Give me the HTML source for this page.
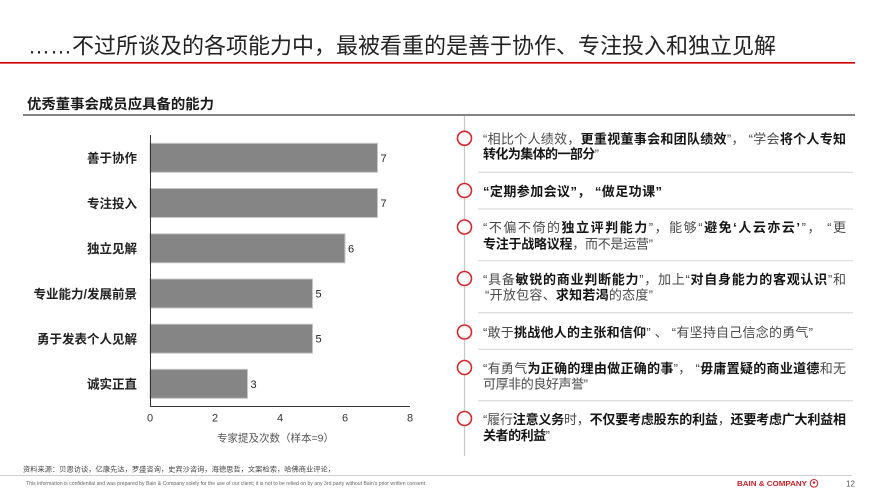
<!DOCTYPE html>
<html>
<head>
<meta charset="utf-8">
<style>
  html, body { margin:0; padding:0; background:#ffffff; }
  body { width:876px; height:492px; overflow:hidden; }
  svg text { font-family: "Liberation Sans", "Noto Sans CJK SC", sans-serif; }
  .b { font-weight:bold; fill:#151515; }
  .n { fill:#4a4a4a; }
</style>
</head>
<body>
<svg width="876" height="492" viewBox="0 0 876 492" xmlns="http://www.w3.org/2000/svg">
  <!-- Title -->
  <text x="28" y="53.5" font-size="22" fill="#222" textLength="748" lengthAdjust="spacingAndGlyphs">……不过所谈及的各项能力中，最被看重的是善于协作、专注投入和独立见解</text>
  <line x1="0" y1="62.8" x2="855" y2="62.8" stroke="#cc0000" stroke-width="1.6"/>

  <!-- Subtitle -->
  <text x="27" y="108.8" font-size="14" font-weight="bold" fill="#1a1a1a" textLength="187" lengthAdjust="spacingAndGlyphs">优秀董事会成员应具备的能力</text>
  <line x1="23" y1="115" x2="855" y2="115" stroke="#5a5a5a" stroke-width="1.5"/>

  <!-- Chart bars -->
  <g fill="#858585" stroke="#c6c6c6" stroke-width="1">
    <rect x="150" y="143.3" width="227.5" height="29"/>
    <rect x="150" y="188.5" width="227.5" height="29"/>
    <rect x="150" y="233.8" width="195" height="29"/>
    <rect x="150" y="279" width="162.5" height="29"/>
    <rect x="150" y="324.2" width="162.5" height="29"/>
    <rect x="150" y="369.3" width="97.5" height="29"/>
  </g>
  <!-- axes -->
  <line x1="150.5" y1="135" x2="150.5" y2="406.5" stroke="#333" stroke-width="1"/>
  <line x1="150" y1="406.5" x2="410" y2="406.5" stroke="#333" stroke-width="1"/>

  <!-- category labels -->
  <g font-size="12.5" font-weight="bold" fill="#222" text-anchor="end">
    <text x="137" y="162.6">善于协作</text>
    <text x="137" y="207.8">专注投入</text>
    <text x="137" y="253">独立见解</text>
    <text x="137" y="298.3">专业能力/发展前景</text>
    <text x="137" y="343.5">勇于发表个人见解</text>
    <text x="137" y="388.6">诚实正直</text>
  </g>

  <!-- value labels -->
  <g font-size="11" fill="#222">
    <text x="380.5" y="161.8">7</text>
    <text x="380.5" y="207">7</text>
    <text x="348" y="252.3">6</text>
    <text x="315.5" y="297.5">5</text>
    <text x="315.5" y="342.7">5</text>
    <text x="250.5" y="387.8">3</text>
  </g>

  <!-- tick labels -->
  <g font-size="11" fill="#333" text-anchor="middle">
    <text x="150" y="421.3">0</text>
    <text x="215" y="421.3">2</text>
    <text x="280" y="421.3">4</text>
    <text x="345" y="421.3">6</text>
    <text x="410" y="421.3">8</text>
  </g>
  <text x="217" y="441.3" font-size="10.5" fill="#555" textLength="117" lengthAdjust="spacingAndGlyphs">专家提及次数（样本=9）</text>

  <!-- Right panel: timeline -->
  <line x1="464.5" y1="116" x2="464.5" y2="456" stroke="#c8c8c8" stroke-width="1.2"/>
  <g stroke="#d3d3d3" stroke-width="1">
    <line x1="478" y1="172.3" x2="853" y2="172.3"/>
    <line x1="478" y1="209" x2="853" y2="209"/>
    <line x1="478" y1="260.7" x2="853" y2="260.7"/>
    <line x1="478" y1="312.7" x2="853" y2="312.7"/>
    <line x1="478" y1="349.3" x2="853" y2="349.3"/>
    <line x1="478" y1="400.7" x2="853" y2="400.7"/>
  </g>
  <g fill="#ffffff" stroke="#d9262b" stroke-width="1.6">
    <circle cx="464.5" cy="138.3" r="7"/>
    <circle cx="464.5" cy="190.5" r="7"/>
    <circle cx="464.5" cy="227" r="7"/>
    <circle cx="464.5" cy="278.5" r="7"/>
    <circle cx="464.5" cy="332" r="7"/>
    <circle cx="464.5" cy="367.5" r="7"/>
    <circle cx="464.5" cy="418.5" r="7"/>
  </g>

  <g font-size="13">
    <!-- Item 1 -->
    <text x="483" y="143.5" textLength="363" lengthAdjust="spacing"><tspan class="n">“相比个人绩效，</tspan><tspan class="b">更重视董事会和团队绩效</tspan><tspan class="n">”，  “学会</tspan><tspan class="b">将个人专知</tspan></text>
    <text x="483" y="158.5" textLength="116" lengthAdjust="spacing"><tspan class="b">转化为集体的一部分</tspan><tspan class="n">”</tspan></text>

    <!-- Item 2 -->
    <text x="483" y="196" textLength="179" lengthAdjust="spacing"><tspan class="b">“定期参加会议”，  “做足功课”</tspan></text>

    <!-- Item 3 -->
    <text x="483" y="232" textLength="363" lengthAdjust="spacing"><tspan class="n">“不偏不倚的</tspan><tspan class="b">独立评判能力</tspan><tspan class="n">”，能够“</tspan><tspan class="b">避免‘人云亦云’</tspan><tspan class="n">”，  “更</tspan></text>
    <text x="483" y="248.7" textLength="170" lengthAdjust="spacing"><tspan class="b">专注于战略议程</tspan><tspan class="n">，而不是运营”</tspan></text>

    <!-- Item 4 -->
    <text x="483" y="284" textLength="363" lengthAdjust="spacing"><tspan class="n">“具备</tspan><tspan class="b">敏锐的商业判断能力</tspan><tspan class="n">”，加上“</tspan><tspan class="b">对自身能力的客观认识</tspan><tspan class="n">”和</tspan></text>
    <text x="485" y="299.3" textLength="168" lengthAdjust="spacing"><tspan class="n">“开放包容、</tspan><tspan class="b">求知若渴</tspan><tspan class="n">的态度”</tspan></text>

    <!-- Item 5 -->
    <text x="483" y="337" textLength="330" lengthAdjust="spacing"><tspan class="n">“敢于</tspan><tspan class="b">挑战他人的主张和信仰</tspan><tspan class="n">” 、 “有坚持自己信念的勇气”</tspan></text>

    <!-- Item 6 -->
    <text x="483" y="373" textLength="363" lengthAdjust="spacing"><tspan class="n">“有勇气</tspan><tspan class="b">为正确的理由做正确的事</tspan><tspan class="n">”，  “</tspan><tspan class="b">毋庸置疑的商业道德</tspan><tspan class="n">和无</tspan></text>
    <text x="483" y="388.3" textLength="105" lengthAdjust="spacing"><tspan class="n">可厚非的良好声誉”</tspan></text>

    <!-- Item 7 -->
    <text x="483" y="424" textLength="363" lengthAdjust="spacing"><tspan class="n">“履行</tspan><tspan class="b">注意义务</tspan><tspan class="n">时，</tspan><tspan class="b">不仅要考虑股东的利益</tspan><tspan class="n">，</tspan><tspan class="b">还要考虑广大利益相</tspan></text>
    <text x="483" y="440" textLength="67" lengthAdjust="spacing"><tspan class="b">关者的利益</tspan><tspan class="n">”</tspan></text>
  </g>

  <!-- Footer -->
  <text x="23" y="471.5" font-size="7" fill="#444" textLength="312" lengthAdjust="spacingAndGlyphs">资料来源：贝恩访谈，亿康先达，罗盛咨询，史宾沙咨询，海德思哲，文案检索，哈佛商业评论，</text>
  <line x1="0" y1="475.5" x2="852" y2="475.5" stroke="#cfcfcf" stroke-width="1"/>
  <text x="26" y="484.8" font-size="5" fill="#666" textLength="399" lengthAdjust="spacingAndGlyphs">This information is confidential and was prepared by Bain &amp; Company solely for the use of our client; it is not to be relied on by any 3rd party without Bain's prior written consent</text>
  <text x="737" y="486" font-size="7" font-weight="bold" fill="#cc1f2a" textLength="70" lengthAdjust="spacingAndGlyphs">BAIN &amp; COMPANY</text>
  <circle cx="814" cy="483.3" r="3.8" fill="none" stroke="#cc1f2a" stroke-width="1"/>
  <circle cx="814" cy="482.6" r="1.2" fill="#cc1f2a"/>
  <text x="846" y="486.3" font-size="8" fill="#555">12</text>
</svg>
</body>
</html>
